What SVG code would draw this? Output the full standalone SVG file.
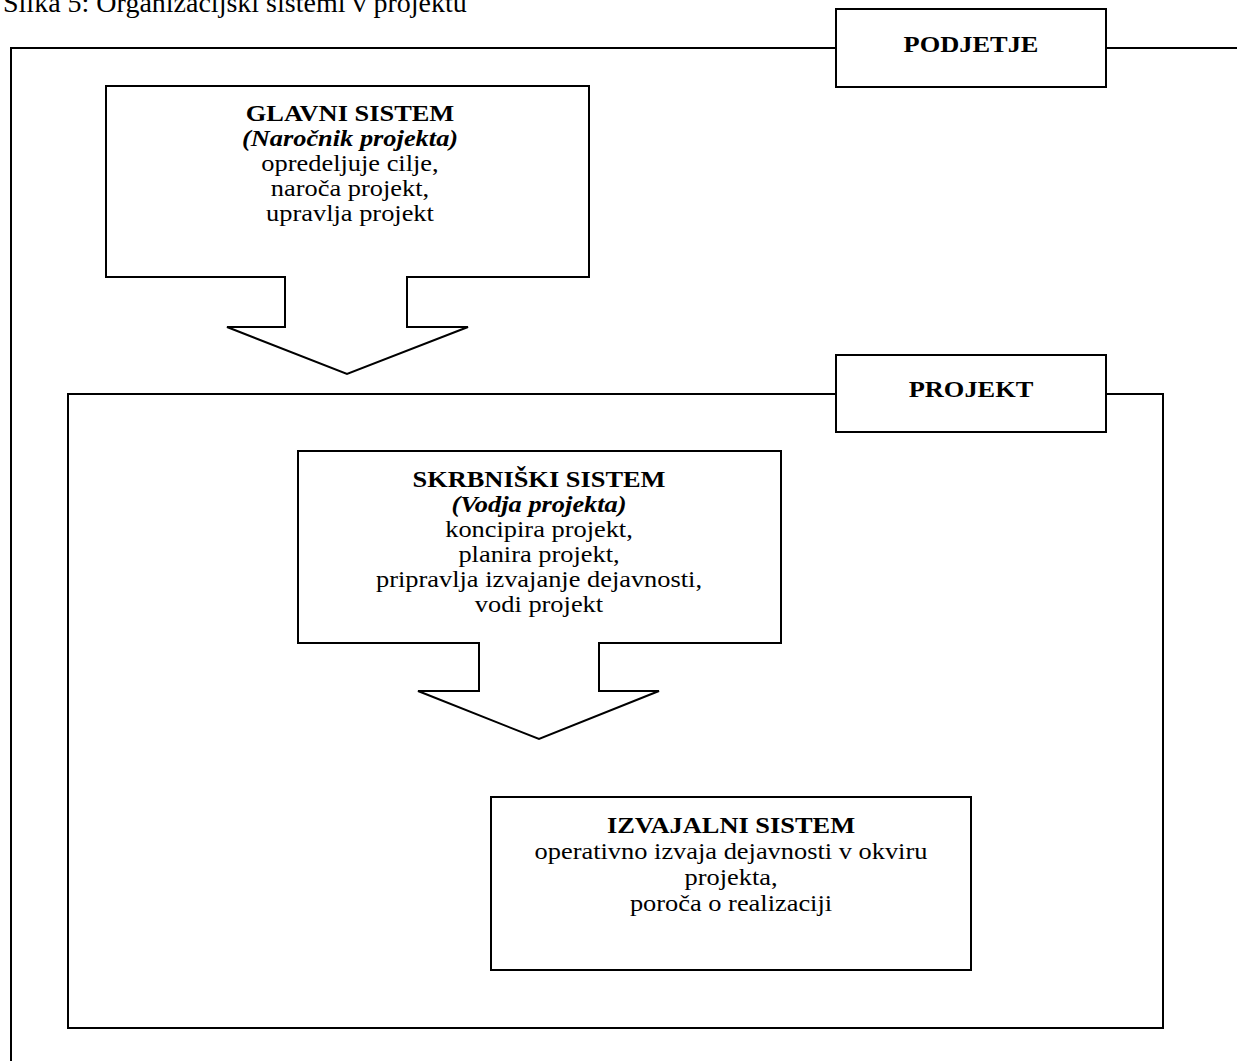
<svg xmlns="http://www.w3.org/2000/svg" width="1237" height="1061" viewBox="0 0 1237 1061">
<style>
.ln{fill:none;stroke:#000;stroke-width:2}
.bx{fill:#fff;stroke:#000;stroke-width:2}
text{font-family:"Liberation Serif","Times New Roman",serif;font-size:24px;fill:#000;text-anchor:middle}
.b{font-weight:bold}
.bi{font-weight:bold;font-style:italic}
.title{font-size:28px;text-anchor:start}
</style>
<rect width="1237" height="1061" fill="#fff"/>
<g id="title">
<text class="title" x="3" y="12">Slika 5: Organizacijski sistemi v projektu</text>
</g>
<g id="podjetje">
<path class="ln" d="M836 48 H11 V1061 M1106 48 H1237"/>
<rect class="bx" x="836" y="9" width="270" height="78"/>
<g transform="translate(971 0) scale(1.1 1)"><text class="b" x="0" y="52">PODJETJE</text></g>
</g>
<g id="projekt">
<path class="ln" d="M836 394 H68 V1028 H1163 V394 H1106"/>
<rect class="bx" x="836" y="355" width="270" height="77"/>
<g transform="translate(971 0) scale(1.1 1)"><text class="b" x="0" y="397">PROJEKT</text></g>
</g>
<g id="glavni">
<path class="bx" d="M106 86 H589 V277 H407 V327 H468 L347 374 L227 327 H285 V277 H106 Z"/>
<g transform="translate(350 0) scale(1.1 1)">
<text class="b" x="0" y="121">GLAVNI SISTEM</text>
<text class="bi" x="0" y="146">(Naročnik projekta)</text>
<text x="0" y="171">opredeljuje cilje,</text>
<text x="0" y="196">naroča projekt,</text>
<text x="0" y="221">upravlja projekt</text>
</g>
</g>
<g id="skrbniski">
<path class="bx" d="M298 451 H781 V643 H599 V691 H659 L539 739 L418 691 H479 V643 H298 Z"/>
<g transform="translate(539 0) scale(1.1 1)">
<text class="b" x="0" y="487">SKRBNIŠKI SISTEM</text>
<text class="bi" x="0" y="512">(Vodja projekta)</text>
<text x="0" y="537">koncipira projekt,</text>
<text x="0" y="562">planira projekt,</text>
<text x="0" y="587">pripravlja izvajanje dejavnosti,</text>
<text x="0" y="612">vodi projekt</text>
</g>
</g>
<g id="izvajalni">
<rect class="bx" x="491" y="797" width="480" height="173"/>
<g transform="translate(731 0) scale(1.1 1)">
<text class="b" x="0" y="833">IZVAJALNI SISTEM</text>
<text x="0" y="859">operativno izvaja dejavnosti v okviru</text>
<text x="0" y="885">projekta,</text>
<text x="0" y="911">poroča o realizaciji</text>
</g>
</g>
<g id="connectors"></g>
</svg>
